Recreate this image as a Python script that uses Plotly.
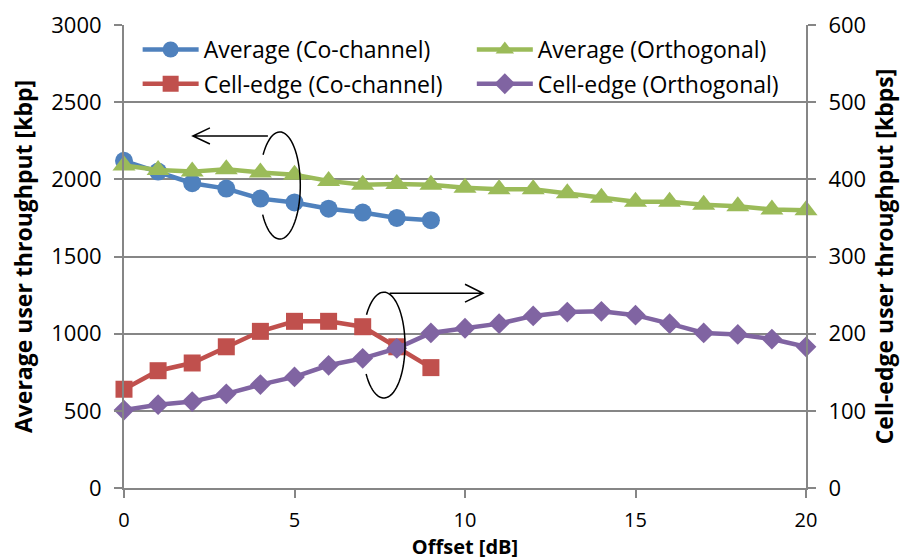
import numpy as np
import plotly.graph_objects as go

offset = list(range(0, 21))
offset_co = list(range(0, 10))

avg_co = [2120, 2050, 1975, 1940, 1875, 1850, 1810, 1785, 1750, 1735]
avg_orth = [2090, 2060, 2050, 2065, 2045, 2030, 1990, 1965, 1970, 1965, 1945,
            1935, 1935, 1910, 1880, 1855, 1855, 1835, 1825, 1805, 1800]
edge_co = [128, 152, 162, 183, 203, 216, 216, 209, 183, 156]
edge_orth = [101, 108, 112, 122, 134, 144, 159, 168, 181, 201, 207,
             213, 223, 228, 229, 224, 213, 201, 199, 193, 183]

names = ["Average (Co-channel)", "Average (Orthogonal)",
         "Cell-edge (Co-channel)", "Cell-edge (Orthogonal)"]
colors = ["#4F81BD", "#9BBB59", "#C0504D", "#8064A2"]

FONT = "Open Sans"
GRID = "#868686"

fig = go.Figure()
fig.add_trace(go.Scatter(x=offset_co, y=avg_co, name=names[0], mode="lines+markers",
                         line=dict(color=colors[0], width=4.5),
                         marker=dict(symbol="circle", size=18, color=colors[0]),
                         cliponaxis=False, legend="legend"))
fig.add_trace(go.Scatter(x=offset, y=avg_orth, name=names[1], mode="lines+markers",
                         line=dict(color=colors[1], width=4.5),
                         marker=dict(symbol="triangle-up", size=20, color=colors[1]),
                         cliponaxis=False, legend="legend2"))
fig.add_trace(go.Scatter(x=offset_co, y=edge_co, name=names[2], mode="lines+markers",
                         line=dict(color=colors[2], width=4.5),
                         marker=dict(symbol="square", size=17, color=colors[2]),
                         cliponaxis=False, yaxis="y2", legend="legend3"))
fig.add_trace(go.Scatter(x=offset, y=edge_orth, name=names[3], mode="lines+markers",
                         line=dict(color=colors[3], width=4.5),
                         marker=dict(symbol="diamond", size=16, color=colors[3]),
                         cliponaxis=False, yaxis="y2", legend="legend4"))


def arc_path(cx, cy, rx, ry, a0, a1, n=60):
    t = np.radians(np.linspace(a0, a1, n))
    xs = cx + rx * np.cos(t)
    ys = cy + ry * np.sin(t)
    return "M " + " L ".join(f"{x:.4f},{y:.2f}" for x, y in zip(xs, ys))


shapes = []
# ellipse + arrow pointing to the left axis
shapes.append(dict(type="path", xref="x", yref="y",
                   path=arc_path(4.57, 1960, 0.6, 347, 145, -147),
                   line=dict(color="black", width=1.5)))
shapes.append(dict(type="path", xref="x", yref="y",
                   path="M 4.22,2281 L 2.02,2281 M 2.52,2333 L 2.02,2281 L 2.52,2229",
                   line=dict(color="black", width=1.5)))
# ellipse + arrow pointing to the right axis
shapes.append(dict(type="path", xref="x", yref="y",
                   path=arc_path(7.62, 926, 0.62, 343, 145, -147),
                   line=dict(color="black", width=1.5)))
shapes.append(dict(type="path", xref="x", yref="y",
                   path="M 7.79,1262 L 10.53,1262 M 10.0,1320 L 10.53,1262 L 10.0,1204",
                   line=dict(color="black", width=1.5)))

axis_common = dict(showline=True, linecolor=GRID, linewidth=2,
                   ticks="outside", ticklen=8, tickwidth=2, tickcolor=GRID,
                   zeroline=False, automargin=False)

TICK_FONT = dict(family=FONT, size=22, color="black")
TITLE_FONT = dict(family=FONT, size=23, color="black")
LEG_FONT = dict(family=FONT, size=23, color="black")


def leg(x, y):
    return dict(orientation="v", x=x, y=y, xanchor="left", yanchor="middle",
                bgcolor="rgba(0,0,0,0)", font=LEG_FONT, itemwidth=56)


fig.update_layout(
    width=911, height=560,
    margin=dict(l=124, r=105, t=25, b=72),
    paper_bgcolor="white", plot_bgcolor="white",
    font=dict(family=FONT, color="black"),
    xaxis=dict(range=[0, 20], dtick=5, showgrid=False,
               tickfont=dict(family=FONT, size=20, color="black"),
               title=dict(text="<b>Offset [dB]</b>", font=dict(family=FONT, size=20, color="black"), standoff=7),
               ticklabelstandoff=5, **axis_common),
    yaxis=dict(range=[0, 3000], dtick=500, showgrid=True, gridcolor=GRID, gridwidth=2,
               tickfont=TICK_FONT,
               title=dict(text="<b>Average user throughput [kbp]</b>", font=TITLE_FONT, standoff=12),
               ticklabelstandoff=8, **axis_common),
    yaxis2=dict(range=[0, 600], dtick=100, overlaying="y", side="right", showgrid=False,
                tickfont=TICK_FONT,
                title=dict(text="<b>Cell-edge user throughput [kbps]</b>", font=TITLE_FONT, standoff=12),
                ticklabelstandoff=8, **axis_common),
    legend=leg(0.02, 0.947),
    legend2=leg(0.51, 0.947),
    legend3=leg(0.02, 0.873),
    legend4=leg(0.51, 0.873),
    shapes=shapes,
    showlegend=True,
)

fig.write_html("out.html")
